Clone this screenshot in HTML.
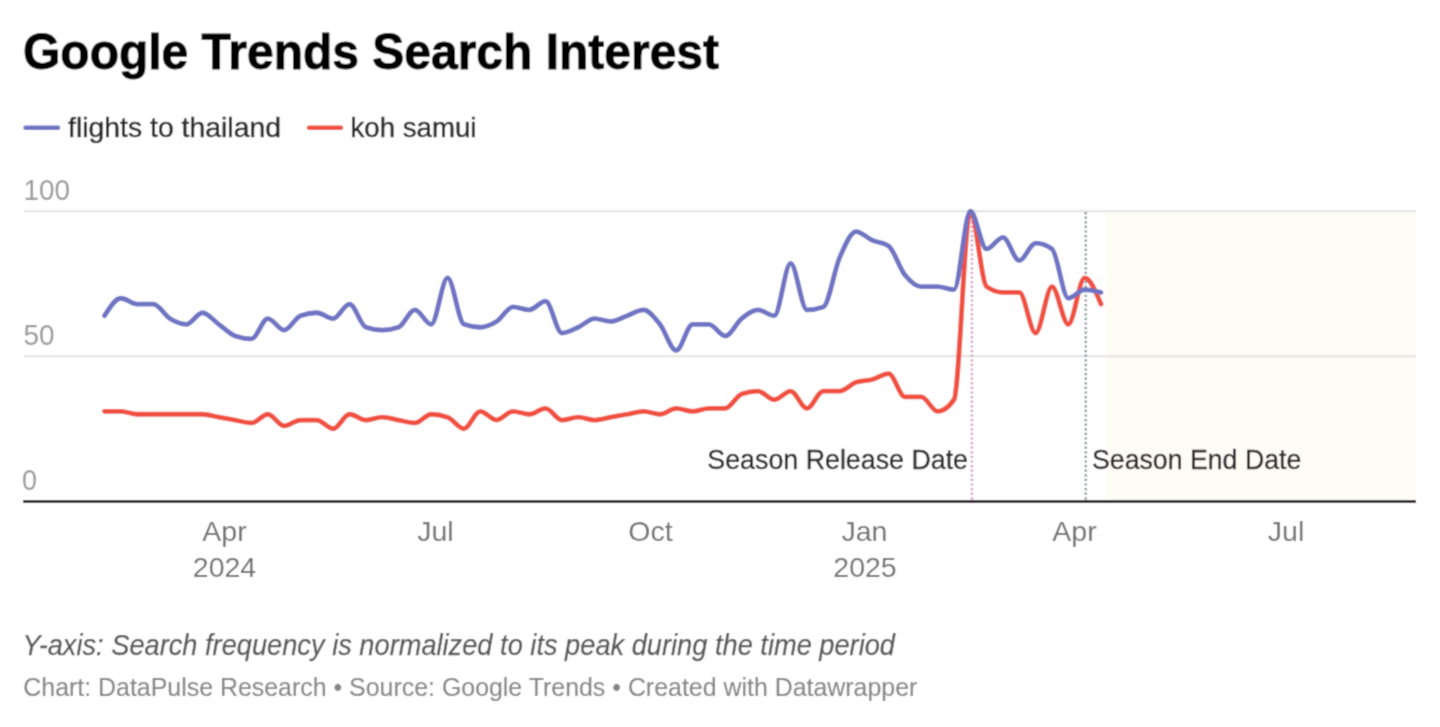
<!DOCTYPE html>
<html><head><meta charset="utf-8">
<style>
html,body{margin:0;padding:0;background:#fff;}
body{width:1440px;height:727px;overflow:hidden;position:relative;}
svg{position:absolute;left:0;top:0;}
text{font-family:"Liberation Sans", sans-serif;}
</style></head>
<body>
<svg width="1440" height="727" viewBox="0 0 1440 727">
<defs><filter id="b" x="0" y="0" width="1440" height="727" filterUnits="userSpaceOnUse"><feConvolveMatrix order="3" kernelMatrix="1 2 1 2 8 2 1 2 1" divisor="20" edgeMode="duplicate"/></filter></defs>
<g filter="url(#b)">
<rect x="0" y="0" width="1440" height="727" fill="#fff"/>
<text x="23" y="69.2" font-size="50" font-weight="bold" fill="#000" stroke="#000" stroke-width="0.9" textLength="696" lengthAdjust="spacingAndGlyphs">Google Trends Search Interest</text>
<line x1="25.5" y1="127.7" x2="58" y2="127.7" stroke="#6e73c3" stroke-width="4.4" stroke-linecap="round"/>
<text x="68" y="136.6" font-size="28.5" fill="#222" stroke="#222" stroke-width="0.4" textLength="213" lengthAdjust="spacingAndGlyphs">flights to thailand</text>
<line x1="309" y1="127.7" x2="341" y2="127.7" stroke="#f05041" stroke-width="4.4" stroke-linecap="round"/>
<text x="350.5" y="136.6" font-size="28.5" fill="#222" stroke="#222" stroke-width="0.4" textLength="126" lengthAdjust="spacingAndGlyphs">koh samui</text>

<rect x="1106" y="212" width="310" height="289" fill="#fdfcf5"/>
<line x1="23.75" y1="211.25" x2="1416" y2="211.25" stroke="#e3e3e3" stroke-width="2.2"/>
<line x1="23.75" y1="356.25" x2="1416" y2="356.25" stroke="#e3e3e3" stroke-width="2.2"/>
<g font-size="30" fill="#9a9a9a">
<text x="23.5" y="200.3" textLength="46.5" lengthAdjust="spacingAndGlyphs">100</text>
<text x="23.5" y="345.3" textLength="31" lengthAdjust="spacingAndGlyphs">50</text>
<text x="22" y="490.3" textLength="15" lengthAdjust="spacingAndGlyphs">0</text>
</g>

<line x1="971.9" y1="212" x2="971.9" y2="501" stroke="#d49bc0" stroke-width="2.4" stroke-dasharray="2.2 2.4"/>
<line x1="1085.75" y1="212" x2="1085.75" y2="501" stroke="#85929a" stroke-width="2.4" stroke-dasharray="2.2 2.4"/>

<path d="M104.50,411.35C109.95,411.35,115.39,411.35,120.84,411.35C126.28,411.35,131.73,414.25,137.17,414.25C142.62,414.25,148.06,414.25,153.51,414.25C158.95,414.25,164.40,414.25,169.84,414.25C175.29,414.25,180.73,414.25,186.18,414.25C191.63,414.25,197.07,414.25,202.52,414.25C207.96,414.25,213.41,416.18,218.85,417.15C224.30,418.12,229.74,419.08,235.19,420.05C240.63,421.02,246.08,422.95,251.52,422.95C256.97,422.95,262.41,414.25,267.86,414.25C273.31,414.25,278.75,425.85,284.20,425.85C289.64,425.85,295.09,420.05,300.53,420.05C305.98,420.05,311.42,420.05,316.87,420.05C322.31,420.05,327.76,428.75,333.20,428.75C338.65,428.75,344.09,414.25,349.54,414.25C354.99,414.25,360.43,420.05,365.88,420.05C371.32,420.05,376.77,417.15,382.21,417.15C387.66,417.15,393.10,419.08,398.55,420.05C403.99,421.02,409.44,422.95,414.88,422.95C420.33,422.95,425.77,414.25,431.22,414.25C436.67,414.25,442.11,415.22,447.56,417.15C453.00,419.08,458.45,428.75,463.89,428.75C469.34,428.75,474.78,411.35,480.23,411.35C485.67,411.35,491.12,420.05,496.56,420.05C502.01,420.05,507.45,411.35,512.90,411.35C518.35,411.35,523.79,414.25,529.24,414.25C534.68,414.25,540.13,408.45,545.57,408.45C551.02,408.45,556.46,420.05,561.91,420.05C567.35,420.05,572.80,417.15,578.24,417.15C583.69,417.15,589.13,420.05,594.58,420.05C600.03,420.05,605.47,418.12,610.92,417.15C616.36,416.18,621.81,415.22,627.25,414.25C632.70,413.28,638.14,411.35,643.59,411.35C649.03,411.35,654.48,414.25,659.92,414.25C665.37,414.25,670.81,408.45,676.26,408.45C681.71,408.45,687.15,411.35,692.60,411.35C698.04,411.35,703.49,408.45,708.93,408.45C714.38,408.45,719.82,408.45,725.27,408.45C730.71,408.45,736.16,395.88,741.60,393.95C747.05,392.02,752.49,391.05,757.94,391.05C763.39,391.05,768.83,399.75,774.28,399.75C779.72,399.75,785.17,391.05,790.61,391.05C796.06,391.05,801.50,408.45,806.95,408.45C812.39,408.45,817.84,391.05,823.28,391.05C828.73,391.05,834.17,391.05,839.62,391.05C845.07,391.05,850.51,384.28,855.96,382.35C861.40,380.42,866.85,380.90,872.29,379.45C877.74,378.00,883.18,373.65,888.63,373.65C894.07,373.65,899.52,396.85,904.96,396.85C910.41,396.85,915.85,396.85,921.30,396.85C926.75,396.85,932.19,411.35,937.64,411.35C943.08,411.35,948.53,407.48,953.97,399.75C959.42,392.02,964.86,211.25,970.31,211.25C975.75,211.25,981.20,282.78,986.64,286.65C992.09,290.52,997.53,292.45,1002.98,292.45C1008.43,292.45,1013.87,292.45,1019.32,292.45C1024.76,292.45,1030.21,333.05,1035.65,333.05C1041.10,333.05,1046.54,286.65,1051.99,286.65C1057.43,286.65,1062.88,324.35,1068.32,324.35C1073.77,324.35,1079.21,277.95,1084.66,277.95C1090.11,277.95,1095.55,291.00,1101.00,304.05" fill="none" stroke="#f05041" stroke-width="4.8" stroke-linejoin="round" stroke-linecap="round"/>
<path d="M104.50,315.65C109.95,306.95,115.39,298.25,120.84,298.25C126.28,298.25,131.73,304.05,137.17,304.05C142.62,304.05,148.06,304.05,153.51,304.05C158.95,304.05,164.40,315.17,169.84,318.55C175.29,321.93,180.73,324.35,186.18,324.35C191.63,324.35,197.07,312.75,202.52,312.75C207.96,312.75,213.41,320.48,218.85,324.35C224.30,328.22,229.74,334.02,235.19,335.95C240.63,337.88,246.08,338.85,251.52,338.85C256.97,338.85,262.41,318.55,267.86,318.55C273.31,318.55,278.75,330.15,284.20,330.15C289.64,330.15,295.09,317.58,300.53,315.65C305.98,313.72,311.42,312.75,316.87,312.75C322.31,312.75,327.76,318.55,333.20,318.55C338.65,318.55,344.09,304.05,349.54,304.05C354.99,304.05,360.43,325.32,365.88,327.25C371.32,329.18,376.77,330.15,382.21,330.15C387.66,330.15,393.10,329.18,398.55,327.25C403.99,325.32,409.44,309.85,414.88,309.85C420.33,309.85,425.77,324.35,431.22,324.35C436.67,324.35,442.11,277.95,447.56,277.95C453.00,277.95,458.45,322.42,463.89,324.35C469.34,326.28,474.78,327.25,480.23,327.25C485.67,327.25,491.12,324.83,496.56,321.45C502.01,318.07,507.45,306.95,512.90,306.95C518.35,306.95,523.79,309.85,529.24,309.85C534.68,309.85,540.13,301.15,545.57,301.15C551.02,301.15,556.46,333.05,561.91,333.05C567.35,333.05,572.80,329.67,578.24,327.25C583.69,324.83,589.13,318.55,594.58,318.55C600.03,318.55,605.47,321.45,610.92,321.45C616.36,321.45,621.81,317.58,627.25,315.65C632.70,313.72,638.14,309.85,643.59,309.85C649.03,309.85,654.48,317.58,659.92,324.35C665.37,331.12,670.81,350.45,676.26,350.45C681.71,350.45,687.15,324.35,692.60,324.35C698.04,324.35,703.49,324.35,708.93,324.35C714.38,324.35,719.82,335.95,725.27,335.95C730.71,335.95,736.16,322.90,741.60,318.55C747.05,314.20,752.49,309.85,757.94,309.85C763.39,309.85,768.83,315.65,774.28,315.65C779.72,315.65,785.17,263.45,790.61,263.45C796.06,263.45,801.50,309.85,806.95,309.85C812.39,309.85,817.84,308.88,823.28,306.95C828.73,305.02,834.17,270.22,839.62,257.65C845.07,245.08,850.51,231.55,855.96,231.55C861.40,231.55,866.85,237.83,872.29,240.25C877.74,242.67,883.18,242.18,888.63,246.05C894.07,249.92,899.52,268.28,904.96,275.05C910.41,281.82,915.85,286.65,921.30,286.65C926.75,286.65,932.19,286.65,937.64,286.65C943.08,286.65,948.53,289.55,953.97,289.55C959.42,289.55,964.86,211.25,970.31,211.25C975.75,211.25,981.20,248.95,986.64,248.95C992.09,248.95,997.53,237.35,1002.98,237.35C1008.43,237.35,1013.87,260.55,1019.32,260.55C1024.76,260.55,1030.21,243.15,1035.65,243.15C1041.10,243.15,1046.54,245.08,1051.99,248.95C1057.43,252.82,1062.88,298.25,1068.32,298.25C1073.77,298.25,1079.21,289.55,1084.66,289.55C1090.11,289.55,1095.55,291.00,1101.00,292.45" fill="none" stroke="#6e73c3" stroke-width="4.8" stroke-linejoin="round" stroke-linecap="round"/>

<line x1="23" y1="501.5" x2="1416" y2="501.5" stroke="#2a2a2a" stroke-width="3"/>

<g font-size="28.5" fill="#222" stroke="#222" stroke-width="0.3">
<text x="707.3" y="469.2" textLength="260.7" lengthAdjust="spacingAndGlyphs">Season Release Date</text>
<text x="1092" y="469.2" textLength="209.3" lengthAdjust="spacingAndGlyphs">Season End Date</text>
</g>

<g font-size="28.5" fill="#707070" text-anchor="middle">
<text x="224.5" y="541">Apr</text>
<text x="224.5" y="576.5">2024</text>
<text x="435.4" y="541">Jul</text>
<text x="650.5" y="541">Oct</text>
<text x="864.5" y="541">Jan</text>
<text x="865" y="576.5">2025</text>
<text x="1074.5" y="541">Apr</text>
<text x="1286" y="541">Jul</text>
</g>

<text x="22.5" y="655.3" font-size="29" font-style="italic" fill="#555" stroke="#555" stroke-width="0.25" textLength="872.5" lengthAdjust="spacingAndGlyphs">Y-axis: Search frequency is normalized to its peak during the time period</text>
<text x="23.3" y="696.2" font-size="26" fill="#858585" stroke="#858585" stroke-width="0.15" textLength="894" lengthAdjust="spacingAndGlyphs">Chart: DataPulse Research • Source: Google Trends • Created with Datawrapper</text>
</g>
</svg>
</body></html>
